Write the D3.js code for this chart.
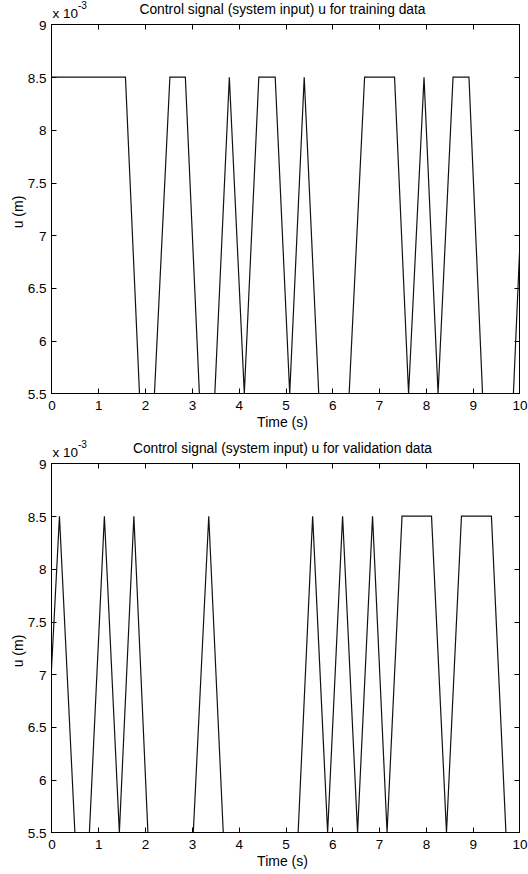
<!DOCTYPE html>
<html>

<head>
	<meta charset="UTF-8">
	<title>Control signal u</title>
	<script src="https://cdn.jsdelivr.net/npm/d3@7"></script>
	<style>
		body {
			padding: 0;
			margin: 0;
			background: #fff;
		}
		text {
			font-family: "Liberation Sans", Arial, sans-serif;
			fill: #000;
		}
	</style>
</head>

<body>
	<script>
		// training signal vertices, time (s) and u (x 10^-3 m)
		var trainTime = [0, 1.58, 1.88, 2.20, 2.53, 2.86, 3.16, 3.49, 3.80, 4.12, 4.43, 4.78, 5.09, 5.40,
			5.71, 6.36, 6.69, 7.33, 7.63, 7.96, 8.26, 8.58, 8.92, 9.21, 9.87, 10];
		var trainU = [8.5, 8.5, 5.5, 5.5, 8.5, 8.5, 5.5, 5.5, 8.5, 5.5, 8.5, 8.5, 5.5, 8.5,
			5.5, 5.5, 8.5, 8.5, 5.5, 8.5, 5.5, 8.5, 8.5, 5.5, 5.5, 6.83];

		// validation signal vertices
		var validTime = [0, 0.17, 0.50, 0.81, 1.13, 1.45, 1.76, 2.06, 3.03, 3.36, 3.67, 5.27, 5.58,
			5.90, 6.22, 6.54, 6.86, 7.17, 7.49, 8.12, 8.44, 8.76, 9.40, 9.71, 10];
		var validU = [7.05, 8.5, 5.5, 5.5, 8.5, 5.5, 8.5, 5.5, 5.5, 8.5, 5.5, 5.5, 8.5,
			5.5, 8.5, 5.5, 8.5, 5.5, 8.5, 8.5, 5.5, 8.5, 8.5, 5.5, 5.5];

		var xTicks = [0, 1, 2, 3, 4, 5, 6, 7, 8, 9, 10];
		var yTicks = [5.5, 6, 6.5, 7, 7.5, 8, 8.5, 9];

		var titles = ["Control signal (system input) u for training data",
			"Control signal (system input) u for validation data"];

		var w = 528,
			h = 874,
			left = 51.5,
			right = 519.5,
			tickLen = 5;

		var svg = d3.select("body").append("svg")
			.attr("width", w)
			.attr("height", h);

		var x = d3.scaleLinear().domain([0, 10]).range([left, right]);

		function panel(top, bottom, times, values, title, id) {
			var y = d3.scaleLinear().domain([5.5, 9]).range([bottom, top]);
			var g = svg.append("g");
			var pts = times.map(function (t, i) { return [t, values[i]]; });

			g.append("clipPath").attr("id", id)
				.append("rect")
				.attr("x", left).attr("y", top)
				.attr("width", right - left).attr("height", bottom - top);

			// axes, ticks pointing inward on all four sides
			var ax = d3.axisBottom(x).tickValues(xTicks).tickSize(0).tickFormat(d3.format("d"));
			var ay = d3.axisLeft(y).tickValues(yTicks).tickSize(0).tickFormat(function (d) { return d; });

			g.append("g").attr("transform", "translate(0," + bottom + ")").call(ax)
				.call(function (s) {
					s.select(".domain").remove();
					s.selectAll("text").attr("dy", null).attr("y", 16).style("font-size", "13.5px")
						.style("font-family", null);
				});
			g.append("g").attr("transform", "translate(" + left + ",0)").call(ay)
				.call(function (s) {
					s.select(".domain").remove();
					s.selectAll("text").attr("x", -5).attr("dy", "0.36em").style("font-size", "13.5px")
						.style("font-family", null);
				});

			var tk = g.append("g").attr("stroke", "#000").attr("stroke-width", 1);
			xTicks.slice(1, -1).forEach(function (d) {
				var px = Math.round(x(d)) + 0.5;
				tk.append("line").attr("x1", px).attr("x2", px).attr("y1", bottom).attr("y2", bottom - tickLen);
				tk.append("line").attr("x1", px).attr("x2", px).attr("y1", top).attr("y2", top + tickLen);
			});
			yTicks.slice(1, -1).forEach(function (d) {
				var py = Math.round(y(d)) + 0.5;
				tk.append("line").attr("x1", left).attr("x2", left + tickLen).attr("y1", py).attr("y2", py);
				tk.append("line").attr("x1", right).attr("x2", right - tickLen).attr("y1", py).attr("y2", py);
			});

			g.append("rect")
				.attr("x", left).attr("y", top)
				.attr("width", right - left).attr("height", bottom - top)
				.attr("fill", "none").attr("stroke", "#000").attr("stroke-width", 1);

			var line = d3.line()
				.x(function (d) { return x(d[0]); })
				.y(function (d) { return y(d[1]); });

			g.append("path")
				.datum(pts)
				.attr("d", line)
				.attr("clip-path", "url(#" + id + ")")
				.attr("fill", "none")
				.attr("stroke", "#111")
				.attr("stroke-width", 1.2);

			// exponent label
			var ex = g.append("text").attr("x", left + 1).attr("y", top - 7).style("font-size", "13.5px");
			ex.append("tspan").text("x 10");
			ex.append("tspan").attr("dy", -9).style("font-size", "10px").text("-3");

			g.append("text")
				.attr("x", (left + right) / 2 - 3)
				.attr("y", top - 11)
				.attr("text-anchor", "middle")
				.style("font-size", "13.8px")
				.text(title);

			g.append("text")
				.attr("x", (left + right) / 2 - 3)
				.attr("y", bottom + 33)
				.attr("text-anchor", "middle")
				.style("font-size", "14px")
				.text("Time (s)");

			g.append("text")
				.attr("transform", "translate(23," + ((top + bottom) / 2 + 3) + ") rotate(-90)")
				.attr("text-anchor", "middle")
				.style("font-size", "14px")
				.text("u (m)");
		}

		panel(24.5, 393.5, trainTime, trainU, titles[0], "clipA");
		panel(463.5, 832.5, validTime, validU, titles[1], "clipB");
	</script>

</body>

</html>
